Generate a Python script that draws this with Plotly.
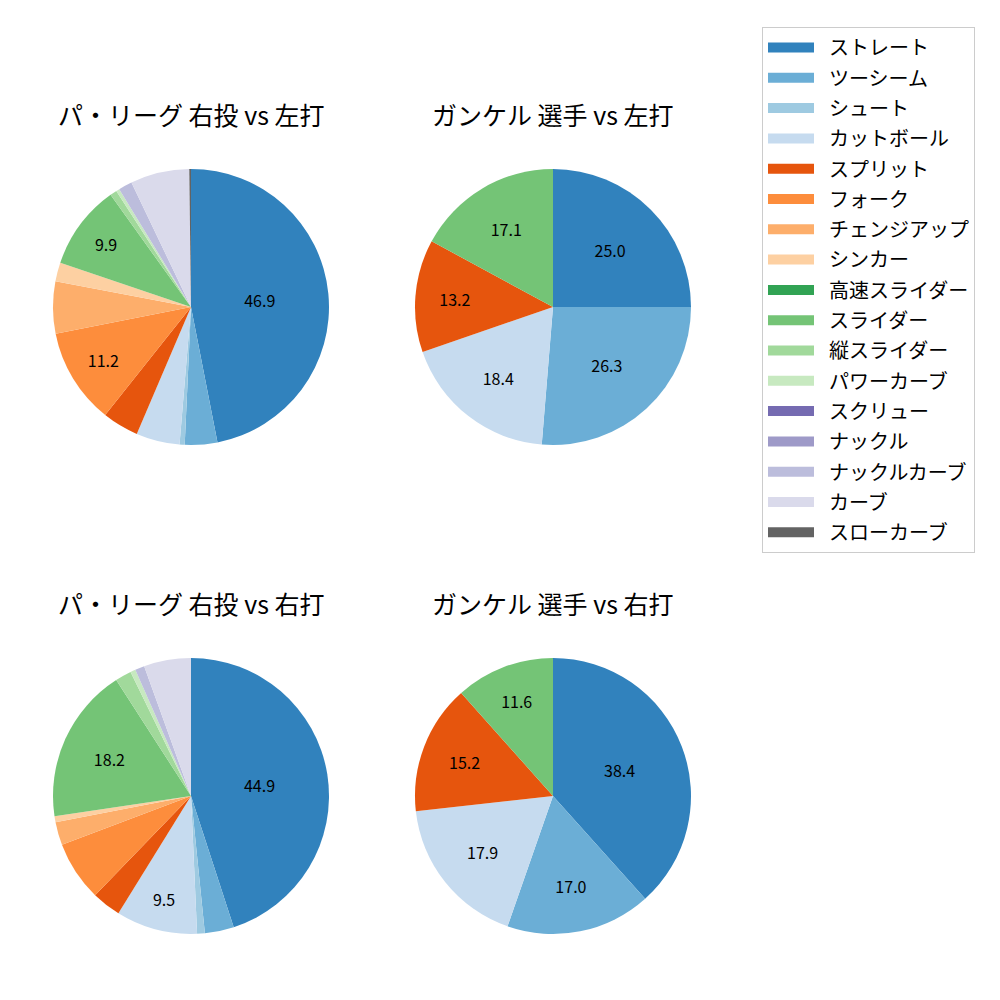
import plotly.graph_objects as go

pitch_types = ["ストレート", "ツーシーム", "シュート", "カットボール", "スプリット", "フォーク",
               "チェンジアップ", "シンカー", "高速スライダー", "スライダー", "縦スライダー",
               "パワーカーブ", "スクリュー", "ナックル", "ナックルカーブ", "カーブ", "スローカーブ"]
colors = ["#3182bd", "#6baed6", "#9ecae1", "#c6dbef", "#e6550d", "#fd8d3c", "#fdae6b", "#fdd0a2",
          "#31a354", "#74c476", "#a1d99b", "#c7e9c0", "#756bb1", "#9e9ac8", "#bcbddc", "#dadaeb", "#636363"]

league_vs_left = [46.9, 3.8, 0.6, 5.1, 4.25, 11.2, 6.1, 2.2, 0.0, 9.9, 0.8, 0.4, 0.0, 0.0, 1.6, 6.9, 0.2]
player_vs_left = [25.0, 26.3, 0.0, 18.4, 13.2, 0.0, 0.0, 0.0, 0.0, 17.1, 0.0, 0.0, 0.0, 0.0, 0.0, 0.0, 0.0]
league_vs_right = [44.9, 3.4, 0.9, 9.5, 3.4, 7.0, 2.7, 0.7, 0.0, 18.2, 1.9, 0.6, 0.0, 0.0, 1.1, 5.5, 0.0]
player_vs_right = [38.4, 17.0, 0.0, 17.9, 15.2, 0.0, 0.0, 0.0, 0.0, 11.6, 0.0, 0.0, 0.0, 0.0, 0.0, 0.0, 0.0]

titles = ["パ・リーグ 右投 vs 左打", "ガンケル 選手 vs 左打", "パ・リーグ 右投 vs 右打", "ガンケル 選手 vs 右打"]
label_threshold = 8.0

FONT = "Noto Sans CJK JP"

# pie layout (paper fractions): centers and radius
cx = [0.191, 0.553, 0.191, 0.553]
cy = [0.693, 0.693, 0.204, 0.204]
r = 0.138

fig = go.Figure()
datasets = [league_vs_left, player_vs_left, league_vs_right, player_vs_right]
for i, vals in enumerate(datasets):
    labs = [p for p, v in zip(pitch_types, vals) if v > 0]
    vs = [v for v in vals if v > 0]
    cols = [c for c, v in zip(colors, vals) if v > 0]
    txt = [f"{v:.1f}" if v >= label_threshold else "" for v in vs]
    fig.add_trace(go.Pie(
        labels=labs, values=vs, text=txt, textinfo="text",
        textposition="inside", insidetextorientation="horizontal",
        textfont=dict(family=FONT, size=16, color="black"),
        marker=dict(colors=cols, line=dict(width=0)),
        sort=False, direction="clockwise", rotation=0,
        showlegend=False, hoverinfo="label+percent",
        domain=dict(x=[cx[i] - r, cx[i] + r], y=[cy[i] - r, cy[i] + r]),
    ))
    fig.add_annotation(text=titles[i], x=cx[i], y=cy[i] + r + 0.055, xref="paper", yref="paper",
                       showarrow=False, xanchor="center", yanchor="middle",
                       font=dict(family=FONT, size=25, color="black"))

# legend entries
for p, c in zip(pitch_types, colors):
    fig.add_trace(go.Scatter(x=[None], y=[None], mode="lines", name="\u2002" + p,
                             line=dict(color=c, width=14), legendgroup=p, showlegend=True))

fig.update_layout(
    width=1000, height=1000,
    margin=dict(l=0, r=0, t=0, b=0),
    paper_bgcolor="white", plot_bgcolor="white",
    xaxis=dict(visible=False), yaxis=dict(visible=False),
    legend=dict(x=0.762, y=0.973, xanchor="left", yanchor="top",
                bordercolor="#cccccc", borderwidth=1, bgcolor="white",
                font=dict(family=FONT, size=20, color="black"),
                tracegroupgap=1.3, itemwidth=46, itemclick=False, itemdoubleclick=False),
    font=dict(family=FONT),
)

fig.write_html("out.html")
